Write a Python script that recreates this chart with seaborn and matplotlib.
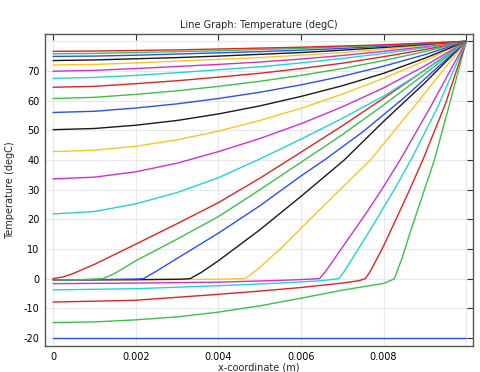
import numpy as np
import pandas as pd
import matplotlib
matplotlib.use("Agg")
import matplotlib.pyplot as plt
import seaborn as sns

# x in mm, temperature in degC, one curve per saved time step (t = 0 first)
x_grid = [0, 1, 2, 3, 4, 5, 6, 7, 8, 9, 10]

x0 = [0, 10]
t0 = [-20, -20]

x1 = [0, 1, 2, 3, 4, 4.5, 5, 6, 7, 8, 8.26, 8.45, 8.63, 8.99, 9.23, 9.6, 10]
t1 = [-14.8, -14.6, -13.9, -12.9, -11.3, -10.2, -9.2, -6.6, -3.9, -1.6, -0.1, 7, 15, 30, 40, 59, 80]

x2 = [0, 2, 4, 5, 6, 7, 7.4, 7.56, 7.68, 7.85, 8.0, 8.3, 8.6, 8.95, 9.5, 10]
t2 = [-7.9, -7.3, -5.3, -4.2, -3.0, -1.5, -0.7, 0, 2.5, 7, 11, 20, 29, 40, 59, 80]

x3 = [0, 2, 4, 4.5, 5.5, 6.5, 6.92, 7.05, 7.3, 7.7, 8.26, 8.68, 9.3, 10]
t3 = [-3.8, -3.4, -2.4, -2.1, -1.5, -0.7, 0, 2.5, 8, 17, 30, 40.5, 57.5, 80]

x4 = [0, 2, 4, 4.5, 5.5, 6.2, 6.45, 6.6, 6.8, 7.2, 7.6, 8.0, 8.4, 9.1, 10]
t4 = [-1.7, -1.5, -1.2, -1.0, -0.6, -0.2, 0, 2.5, 6.5, 14.5, 22.5, 31, 40, 57, 80]

x5 = [0, 2, 4, 4.64, 4.8, 5.0, 5.5, 6.0, 6.8, 7.68, 8.8, 10]
t5 = [-0.5, -0.4, -0.2, 0, 1.5, 3.8, 10, 17, 28, 40, 59, 80]

x6 = [0, 2, 3.1, 3.32, 3.6, 4, 5, 6, 7.05, 8, 9, 10]
t6 = [-0.4, -0.35, -0.2, 0, 2.2, 6, 16.4, 27.7, 40, 53, 66, 80]

x7 = [0, 1, 2, 2.19, 2.5, 3, 4, 5, 6, 6.57, 7.5, 8.5, 10]
t7 = [-0.4, -0.35, -0.15, 0, 2.5, 6.8, 15.3, 24.5, 34.6, 40, 49.5, 61, 80]

x8 = [0, 0.6, 1.21, 1.5, 2, 3, 4, 5, 6, 7, 8, 9, 10]
t8 = [-0.45, -0.4, 0, 1.8, 6, 13.3, 20.9, 29.9, 39.2, 48.5, 58.5, 69, 80]

x9 = [0, 0.25, 0.5, 1, 2, 3, 4, 5, 6, 7, 8, 9, 10]
t9 = [0, 0.6, 1.8, 4.8, 11.6, 18.5, 25.6, 33.8, 42.6, 51.5, 60.8, 70.3, 80]

t10 = [21.8, 22.6, 25.2, 29.0, 34.0, 40.3, 47.0, 54.0, 61.5, 70.2, 80]
t11 = [33.6, 34.2, 36.0, 38.9, 42.8, 47.2, 52.2, 57.9, 64.3, 71.7, 80]
t12 = [42.8, 43.3, 44.6, 46.8, 49.7, 53.3, 57.4, 62.2, 67.5, 73.4, 80]
t13 = [50.2, 50.6, 51.7, 53.3, 55.5, 58.2, 61.4, 65.0, 69.2, 74.3, 80]
t14 = [56.0, 56.4, 57.5, 58.9, 60.7, 62.8, 65.3, 68.2, 71.6, 75.5, 80]
t15 = [60.7, 61.1, 62.1, 63.3, 64.8, 66.5, 68.5, 70.8, 73.5, 76.5, 80]
t16 = [64.5, 64.8, 65.7, 66.7, 67.9, 69.2, 70.8, 72.6, 74.8, 77.2, 80]
t17 = [67.5, 67.8, 68.5, 69.4, 70.4, 71.4, 72.7, 74.2, 75.9, 77.8, 80]
t18 = [69.9, 70.2, 70.8, 71.5, 72.2, 73.0, 74.0, 75.2, 76.6, 78.2, 80]
t19 = [72.0, 72.2, 72.7, 73.3, 73.9, 74.5, 75.3, 76.2, 77.3, 78.6, 80]
t20 = [73.5, 73.7, 74.1, 74.5, 75.0, 75.6, 76.2, 77.0, 77.9, 78.9, 80]
t21 = [74.9, 75.0, 75.3, 75.7, 76.1, 76.5, 77.0, 77.6, 78.3, 79.1, 80]
t22 = [75.8, 75.9, 76.2, 76.5, 76.8, 77.2, 77.6, 78.1, 78.6, 79.3, 80]
t23 = [76.6, 76.7, 76.9, 77.1, 77.4, 77.7, 78.0, 78.4, 78.8, 79.4, 80]

curves = [(x0, t0), (x1, t1), (x2, t2), (x3, t3), (x4, t4), (x5, t5),
          (x6, t6), (x7, t7), (x8, t8), (x9, t9)]
for t in [t10, t11, t12, t13, t14, t15, t16, t17, t18, t19, t20, t21, t22, t23]:
    curves.append((x_grid, t))

rows = []
for i, (xs, ts) in enumerate(curves):
    for xv, tv in zip(xs, ts):
        rows.append({"curve": i, "x": xv / 1000, "T": tv})
df = pd.DataFrame(rows)

cycle = ["#2a4dff", "#3cc04a", "#e32222", "#22d4d4", "#cf2fd6", "#ffc320", "#1a1a1a"]
palette = [cycle[i % 7] for i in range(len(curves))]

sns.set_style("white")
plt.rcParams["font.family"] = ["DejaVu Sans"]

fig = plt.figure(figsize=(4.81, 3.72), dpi=100)
ax = fig.add_axes([0.094, 0.070, 0.889, 0.839])

sns.lineplot(data=df, x="x", y="T", hue="curve", palette=palette,
             estimator=None, legend=False, linewidth=1.0, ax=ax)

ax.set_xlim(-0.00019, 0.01016)
ax.set_ylim(-22.7, 82.5)

xt = [0, 0.002, 0.004, 0.006, 0.008, 0.01]
ax.set_xticks(xt)
ax.set_xticklabels(["0", "0.002", "0.004", "0.006", "0.008", ""])
yt = [-20, -10, 0, 10, 20, 30, 40, 50, 60, 70, 80]
ax.set_yticks(yt)
ax.set_yticklabels(["-20", "-10", "0", "10", "20", "30", "40", "50", "60", "70", ""])

ax.grid(True, color="#e8e8e8", linewidth=0.8)
ax.set_axisbelow(True)
ax.tick_params(direction="in", top=True, right=True, length=4, width=0.8,
               labelsize=7, colors="#333333", pad=4)
ax.tick_params(labelcolor="black")
for s in ax.spines.values():
    s.set_color("#555555")
    s.set_linewidth(1.0)

ax.set_title("Line Graph: Temperature (degC)", fontsize=7, pad=4)
ax.set_xlabel("x-coordinate (m)", fontsize=7, labelpad=1)
ax.set_ylabel("Temperature (degC)", fontsize=7, labelpad=6)

fig.savefig("out.png", dpi=100)
